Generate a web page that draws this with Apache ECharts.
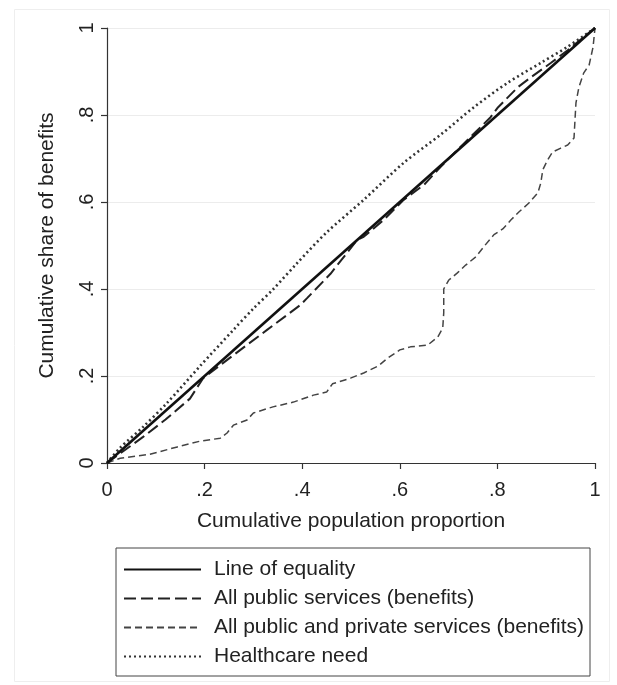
<!DOCTYPE html>
<html><head><meta charset="utf-8">
<script src="https://cdn.jsdelivr.net/npm/echarts@6/dist/echarts.min.js"></script>
<style>html,body{margin:0;padding:0;background:#fff}#c{width:617px;height:685px}</style>
</head><body><div id="c"></div>
<script>
var seriesNames = ['Line of equality','All public services (benefits)','All public and private services (benefits)','Healthcare need'];
var tickValues = [0,0.2,0.4,0.6,0.8,1];
var tickLabels = ['0','.2','.4','.6','.8','1'];
var equality = [[0,0],[1,1]];
var publicServices = [[0,0],[0.074,0.06],[0.12,0.1],[0.17,0.148],[0.197,0.195],[0.259,0.248],[0.328,0.306],[0.396,0.363],[0.41,0.379],[0.458,0.435],[0.513,0.513],[0.526,0.52],[0.567,0.559],[0.608,0.605],[0.65,0.64],[0.678,0.674],[0.698,0.697],[0.75,0.755],[0.786,0.795],[0.80,0.816],[0.842,0.864],[0.869,0.887],[0.91,0.92],[0.944,0.949],[1,1]];
var publicPrivate = [[0,0],[0.027,0.011],[0.088,0.02],[0.144,0.037],[0.19,0.05],[0.232,0.057],[0.246,0.069],[0.259,0.087],[0.287,0.099],[0.30,0.115],[0.34,0.129],[0.382,0.14],[0.423,0.156],[0.45,0.163],[0.462,0.182],[0.499,0.195],[0.526,0.207],[0.556,0.223],[0.575,0.241],[0.60,0.26],[0.622,0.267],[0.657,0.271],[0.678,0.29],[0.688,0.31],[0.69,0.345],[0.69,0.40],[0.70,0.42],[0.718,0.437],[0.735,0.455],[0.756,0.474],[0.772,0.497],[0.793,0.525],[0.811,0.538],[0.828,0.559],[0.844,0.577],[0.864,0.597],[0.883,0.621],[0.889,0.644],[0.893,0.674],[0.903,0.697],[0.913,0.715],[0.930,0.724],[0.944,0.731],[0.957,0.747],[0.959,0.789],[0.961,0.828],[0.967,0.864],[0.977,0.897],[0.988,0.915],[0.996,0.956],[1,1]];
var healthcareNeed = [[0,0],[0.027,0.035],[0.074,0.083],[0.123,0.138],[0.19,0.222],[0.259,0.306],[0.30,0.355],[0.341,0.40],[0.39,0.46],[0.45,0.53],[0.526,0.605],[0.608,0.69],[0.684,0.755],[0.752,0.818],[0.821,0.874],[0.889,0.92],[0.944,0.957],[1,1]];

var chart = echarts.init(document.getElementById('c'), null, {renderer:'canvas'});
var font = 'Liberation Sans, Arial, sans-serif';
function fmt(v){ var i = tickValues.indexOf(Math.round(v*10)/10); return i>=0 ? tickLabels[i] : ''; }
chart.setOption({
  animation:false,
  backgroundColor:'#fff',
  color:['#111','#222','#444','#333'],
  graphic:[{type:'rect',left:12,top:7,shape:{width:595,height:672},style:{fill:'none',stroke:'#eeeeee',lineWidth:1},silent:true}],
  grid:{left:107,right:22,top:28,bottom:222,containLabel:false},
  xAxis:{type:'value',min:0,max:1,interval:0.2,
    name:'Cumulative population proportion',nameLocation:'middle',nameGap:48,
    nameTextStyle:{fontFamily:font,fontSize:21,color:'#222'},
    axisLine:{show:true,onZero:false,lineStyle:{color:'#333',width:1.2}},
    axisTick:{show:true,length:6,lineStyle:{color:'#333',width:1.2}},
    axisLabel:{margin:17,fontFamily:font,fontSize:20,color:'#222',formatter:fmt},
    splitLine:{show:false}},
  yAxis:{type:'value',min:0,max:1,interval:0.2,
    name:'Cumulative share of benefits',nameLocation:'middle',nameGap:49,nameRotate:90,
    nameTextStyle:{fontFamily:font,fontSize:21,color:'#222'},
    axisLine:{show:true,onZero:false,lineStyle:{color:'#333',width:1.2}},
    axisTick:{show:true,length:6,lineStyle:{color:'#333',width:1.2}},
    axisLabel:{rotate:90,margin:10,fontFamily:font,fontSize:20,color:'#222',formatter:fmt},
    splitLine:{show:true,lineStyle:{color:'#ececec',width:1.2}}},
  legend:{orient:'vertical',left:116,top:548,
    itemWidth:77,itemHeight:14,itemGap:8,
    padding:[11,6,9,7],
    borderColor:'#444',borderWidth:1,
    itemStyle:{opacity:0},
    textStyle:{fontFamily:font,fontSize:21,lineHeight:20,color:'#222',padding:[0,0,0,8]},
    data:seriesNames},
  series:[
    {name:seriesNames[0],type:'line',data:equality,symbol:'none',z:4,
      lineStyle:{color:'#111',width:2.6,type:'solid'}},
    {name:seriesNames[1],type:'line',data:publicServices,symbol:'none',z:3,
      lineStyle:{color:'#222',width:2,type:[12,5]}},
    {name:seriesNames[2],type:'line',data:publicPrivate,symbol:'none',z:2,
      lineStyle:{color:'#444',width:1.5,type:[7,4]}},
    {name:seriesNames[3],type:'line',data:healthcareNeed,symbol:'none',z:1,smooth:0.3,
      lineStyle:{color:'#333',width:2.6,type:[2,3]}}
  ]
});
</script></body></html>
